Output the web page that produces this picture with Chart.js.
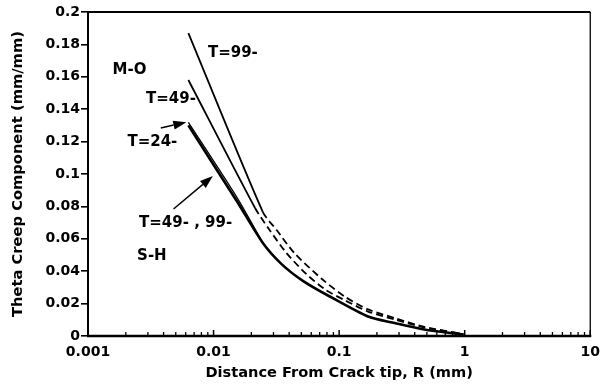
<!DOCTYPE html>
<html><head><meta charset="utf-8">
<script src="https://cdn.jsdelivr.net/npm/chart.js@4"></script>
<style>html,body{margin:0;padding:0;background:#fff;}canvas{display:block;}</style>
</head><body>
<canvas id="c" width="608" height="386"></canvas>
<script>
// ---- data ----
const xTickValues = [0.001, 0.01, 0.1, 1, 10];
const yTickStep = 0.02;

// M-O, T=99 (solid, then dashed)
const rT99MO  = [0.0063, 0.0247, 0.0318, 0.0440, 0.0729, 0.112, 0.170, 0.277, 0.4755, 0.977];
const thT99MO = [0.187, 0.0765, 0.0654, 0.0512, 0.0352, 0.0241, 0.0164, 0.0111, 0.0056, 0.0012];
// M-O, T=49 (solid, then dashed)
const rT49MO  = [0.0063, 0.0214, 0.0276, 0.0381, 0.0547, 0.0784, 0.112, 0.170, 0.277, 0.4755, 0.977];
const thT49MO = [0.158, 0.079, 0.066, 0.0512, 0.0383, 0.0284, 0.0219, 0.0151, 0.0102, 0.0052, 0.0012];
// M-O, T=24
const rT24MO  = [0.0063, 0.0155, 0.0247];
const thT24MO = [0.1319, 0.0850, 0.0574];
// S-H, T=49, 99
const rSH  = [0.0063, 0.01548, 0.0247, 0.0348, 0.0518, 0.0828, 0.170, 0.277, 0.4755, 0.977];
const thSH = [0.130, 0.0827, 0.0574, 0.0444, 0.0339, 0.0247, 0.0120, 0.0080, 0.0040, 0.0009];

const pts = (xs, ys) => xs.map((v, i) => ({x: v, y: ys[i]}));

// annotation anchors (data units)
const notes = [
  {text: 'M-O',         x: 0.00157, y: 0.1641},
  {text: 'T=99-',       x: 0.00902, y: 0.1746},
  {text: 'T=49-',       x: 0.0029,  y: 0.1462},
  {text: 'T=24-',       x: 0.00206, y: 0.1197},
  {text: 'T=49- , 99-', x: 0.00255, y: 0.0697},
  {text: 'S-H',         x: 0.00246, y: 0.0494}
];
const arrows = [
  {x0: 0.0038, y0: 0.1284, x1: 0.00607, y1: 0.132},
  {x0: 0.0048, y0: 0.0784, x1: 0.00987, y1: 0.0987}
];

const FONT = "'DejaVu Sans', sans-serif";
const dashAfter = k => ({ borderDash: c => c.p0DataIndex >= k ? [7, 4] : [] });

const decor = {
  id: 'decor',
  afterDatasetsDraw(chart) {
    const {ctx, chartArea: a, scales: {x, y}} = chart;
    ctx.save();
    ctx.strokeStyle = '#000';
    ctx.fillStyle = '#000';
    const seg = (x0, y0, x1, y1, w) => { ctx.lineWidth = w; ctx.beginPath(); ctx.moveTo(x0, y0); ctx.lineTo(x1, y1); ctx.stroke(); };
    // frame
    seg(a.left - 1, a.top, a.right, a.top, 2);
    seg(a.right, a.top, a.right, a.bottom, 1.3);
    seg(a.left, a.top - 1, a.left, a.bottom + 1, 2);
    seg(a.left - 1, a.bottom, a.right + 1, a.bottom, 2.5);
    // x ticks pointing inward
    for (let i = 0; i < xTickValues.length; i++) {
      const d = xTickValues[i];
      const px = x.getPixelForValue(d);
      seg(px, a.bottom, px, a.bottom - 6, 1.5);
      if (i < xTickValues.length - 1) {
        for (let m = 2; m <= 9; m++) {
          const p = x.getPixelForValue(m * d);
          seg(p, a.bottom, p, a.bottom - 4, 1.3);
        }
      }
    }
    // annotations
    ctx.font = 'bold 15px ' + FONT;
    ctx.textBaseline = 'middle';
    ctx.textAlign = 'left';
    notes.forEach(n => ctx.fillText(n.text, x.getPixelForValue(n.x), y.getPixelForValue(n.y)));
    arrows.forEach(ar => {
      const x0 = x.getPixelForValue(ar.x0), y0 = y.getPixelForValue(ar.y0);
      const x1 = x.getPixelForValue(ar.x1), y1 = y.getPixelForValue(ar.y1);
      const ang = Math.atan2(y1 - y0, x1 - x0);
      const L = 13, W = 4.5;
      const bx = x1 - L * Math.cos(ang), by = y1 - L * Math.sin(ang);
      seg(x0, y0, bx, by, 1.5);
      ctx.beginPath();
      ctx.moveTo(x1, y1);
      ctx.lineTo(bx + W * Math.sin(ang), by - W * Math.cos(ang));
      ctx.lineTo(bx - W * Math.sin(ang), by + W * Math.cos(ang));
      ctx.closePath();
      ctx.fill();
    });
    ctx.restore();
  }
};

new Chart(document.getElementById('c'), {
  type: 'line',
  data: {
    datasets: [
      {data: pts(rT99MO, thT99MO), borderColor: '#000', borderWidth: 1.8, segment: dashAfter(1)},
      {data: pts(rT49MO, thT49MO), borderColor: '#000', borderWidth: 1.8, segment: dashAfter(1)},
      {data: pts(rT24MO, thT24MO), borderColor: '#000', borderWidth: 1.3},
      {data: pts(rSH, thSH), borderColor: '#000', borderWidth: 2.6}
    ]
  },
  options: {
    responsive: false,
    animation: false,
    devicePixelRatio: 1,
    layout: {padding: {left: 0, right: 9, top: 12, bottom: 0}},
    elements: {point: {radius: 0}, line: {tension: 0.25, fill: false, borderCapStyle: 'butt'}},
    plugins: {legend: {display: false}, tooltip: {enabled: false}},
    scales: {
      x: {
        type: 'logarithmic',
        min: 0.001, max: 10,
        afterBuildTicks: s => { s.ticks = xTickValues.map(v => ({value: v})); },
        afterFit: s => { s.height = 50; },
        grid: {display: false, drawTicks: false},
        border: {display: false},
        ticks: {
          autoSkip: false, maxRotation: 0, padding: 8, color: '#000',
          font: {family: FONT, size: 14, weight: 'bold'},
          callback: v => String(v)
        },
        title: {display: true, text: 'Distance From Crack tip, R (mm)', color: '#000',
          font: {family: FONT, size: 14.6, weight: 'bold'}, padding: {top: 0, bottom: 4}}
      },
      y: {
        min: 0, max: 0.2,
        afterFit: s => { s.width = 88; },
        grid: {drawOnChartArea: false, drawTicks: true, tickLength: 7, color: '#000', lineWidth: 1.6},
        border: {display: false},
        ticks: {
          stepSize: yTickStep, padding: 1, color: '#000',
          font: {family: FONT, size: 14, weight: 'bold'},
          callback: v => String(parseFloat(v.toFixed(2)))
        },
        title: {display: true, text: 'Theta Creep Component (mm/mm)', color: '#000',
          font: {family: FONT, size: 14.7, weight: 'bold'}, padding: {top: 9, bottom: 0}}
      }
    }
  },
  plugins: [decor]
});
</script>
</body></html>
